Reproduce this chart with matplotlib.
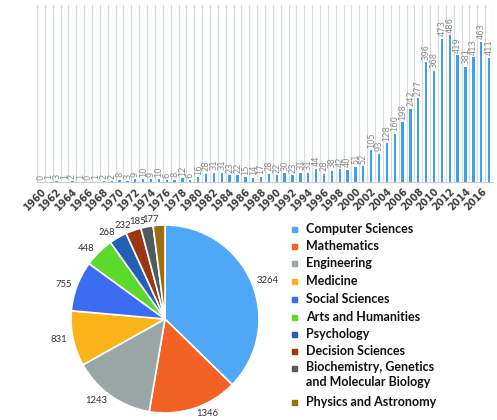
import matplotlib
matplotlib.use("Agg")
import matplotlib.pyplot as plt
from matplotlib.patches import Rectangle
import numpy as np

years = list(range(1960, 2018))
counts = [0, 1, 3, 1, 2, 1, 0, 1, 2, 2, 8, 3, 9, 10, 9, 10, 6, 8, 12, 6,
          16, 28, 31, 31, 23, 22, 15, 14, 17, 28, 22, 30, 23, 31, 31, 44, 28, 38, 42, 40,
          51, 52, 105, 93, 128, 160, 198, 242, 277, 396, 368, 473, 486, 419, 381, 413, 463, 411]

areas = ["Computer Sciences", "Mathematics", "Engineering", "Medicine", "Social Sciences",
         "Arts and Humanities", "Psychology", "Decision Sciences",
         "Biochemistry, Genetics\nand Molecular Biology", "Physics and Astronomy"]
area_counts = [3264, 1346, 1243, 831, 755, 448, 268, 232, 185, 177]
area_colors = ["#4fa8f7", "#f26224", "#9aa5a5", "#fbb417", "#3b6cf2",
               "#5cd92b", "#235fb5", "#9c3511", "#4f5b5e", "#9e6c0b"]

W, H = 497, 420
fig = plt.figure(figsize=(W / 100, H / 100), dpi=100)

# ---- bar chart ----
bl, br, bb, bt = 37, 493, 182, 5
ax = fig.add_axes([bl / W, 1 - bb / H, (br - bl) / W, (bb - bt) / H])
x = np.arange(len(years))
ax.bar(x, counts, width=0.3, color="#3fa0ef", zorder=3)
ax.set_xlim(-0.5, len(years) - 0.5)
ax.set_ylim(0, 585)
for b in np.arange(-0.5, len(years), 1.0):
    ax.axvline(b, color="#d5dcdc", lw=0.9, zorder=1)
for s in ["top", "right", "left"]:
    ax.spines[s].set_visible(False)
ax.spines["bottom"].set_color("#c8cccc")
ax.set_yticks([])
ax.set_xticks(x[::2])
ax.set_xticklabels([str(y) for y in years[::2]], rotation=45, ha="right",
                   rotation_mode="anchor", fontsize=7, fontweight="bold", color="#404040")
ax.tick_params(axis="x", length=0, pad=3)
for xi, c in zip(x, counts):
    ax.text(xi, c + 8, str(c), rotation=90, ha="center", va="bottom",
            fontsize=6, color="#8a8a8a")

# ---- pie ----
cx, cy, R = 165, 319, 94
pax = fig.add_axes([(cx - R) / W, 1 - (cy + R) / H, 2 * R / W, 2 * R / H])
pax.pie(area_counts, colors=area_colors, startangle=90, counterclock=False,
        labels=[str(v) for v in area_counts], labeldistance=1.06,
        wedgeprops=dict(edgecolor="white", linewidth=1.2),
        textprops=dict(fontsize=6.8, color="#333333", family="Lato"))
pax.set_xlim(-1, 1)
pax.set_ylim(-1, 1)
pax.set_aspect("auto")
pax.axis("off")

# ---- legend ----
rows = [229, 246, 263, 281, 299, 317, 334, 351, 368, 402]
for name, col, yy in zip(areas, area_colors, rows):
    fig.add_artist(Rectangle((292 / W, 1 - (yy + 2.5) / H), 5 / W, 5 / H,
                             transform=fig.transFigure, color=col))
    if "\n" in name:
        fig.text(306 / W, 1 - (yy - 7) / H, name, fontsize=9, fontweight="bold",
                 family="Lato", color="#111111", va="top", linespacing=1.3)
    else:
        fig.text(306 / W, 1 - yy / H, name, fontsize=9, fontweight="bold",
                 family="Lato", color="#111111", va="center")

fig.savefig("out.png", dpi=100)
